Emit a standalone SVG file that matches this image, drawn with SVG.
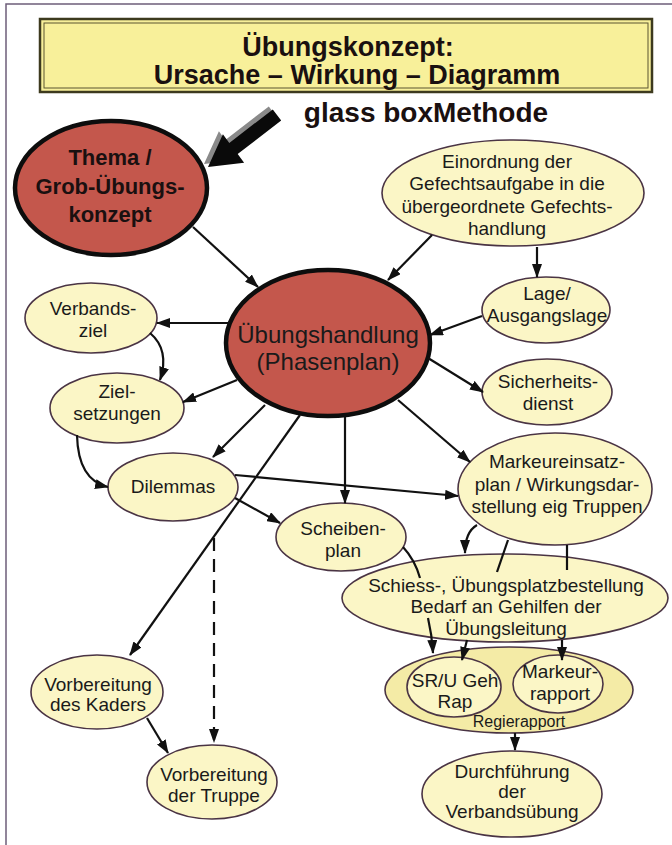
<svg xmlns="http://www.w3.org/2000/svg" width="672" height="845" viewBox="0 0 672 845">
<defs>
<style>
.n{fill:#FBF6C6;stroke:#4a3444;stroke-width:1.6}
.r{fill:#C4574C;stroke:#0d0d0d;stroke-width:4.5}
.t{font-family:"Liberation Sans",Arial,sans-serif;font-size:19px;fill:#1a1a1a;text-anchor:middle}
.big{font-size:24px}
.sm{font-size:16px}
.tb{font-family:"Liberation Sans",Arial,sans-serif;font-weight:bold;fill:#1a1010;text-anchor:middle}
.c{fill:none;stroke:#111;stroke-width:2.2}
.a{marker-end:url(#ah)}
</style>
<marker id="ah" viewBox="0 0 14 10" refX="13" refY="5" markerWidth="14" markerHeight="10" markerUnits="userSpaceOnUse" orient="auto">
<path d="M0,0 L14,5 L0,10 z" fill="#111"/>
</marker>
</defs>
<rect width="672" height="845" fill="#ffffff"/>
<path d="M672,4 H6 V845" fill="none" stroke="#6e5e7a" stroke-width="1.5"/>

<g id="title">
<rect x="40" y="19" width="612" height="73" fill="#F8F09A" stroke="#3d3a1e" stroke-width="2.5"/>
<rect x="44" y="23" width="604" height="65" fill="none" stroke="#5a5530" stroke-width="1"/>
<text class="tb" x="348" y="56" font-size="27">Übungskonzept:</text>
<text class="tb" x="357" y="84" font-size="27">Ursache – Wirkung – Diagramm</text>
</g>

<g id="glassbox">
<polygon points="268.8,106.4 277.2,117.6 233.7,151.1 240.1,159.7 204,164 218.9,131.3 225.3,139.9" fill="#8a8a8a"/>
<polygon points="272.8,109.4 281.2,120.6 237.7,154.1 244.1,162.7 208,167 222.9,134.3 229.3,142.9" fill="#0a0a0a"/>
<text class="tb" x="426" y="122" font-size="28">glass boxMethode</text>
</g>

<g id="thema">
<ellipse class="r" cx="111" cy="188" rx="96" ry="67"/>
<text class="tb" font-size="22" x="110" y="165">Thema /</text>
<text class="tb" font-size="22" x="110" y="194">Grob-Übungs-</text>
<text class="tb" font-size="22" x="110" y="222">konzept</text>
</g>

<g id="uebungshandlung">
<ellipse class="r" cx="328" cy="343" rx="102" ry="73" stroke-width="5"/>
<text class="t big" x="328" y="343">Übungshandlung</text>
<text class="t big" x="328" y="370">(Phasenplan)</text>
</g>

<g id="einordnung">
<ellipse class="n" cx="513" cy="193" rx="131" ry="53"/>
<text class="t" x="507" y="168">Einordnung der</text>
<text class="t" x="507" y="190">Gefechtsaufgabe in die</text>
<text class="t" x="507" y="213">übergeordnete Gefechts-</text>
<text class="t" x="507" y="235">handlung</text>
</g>

<g id="lage">
<ellipse class="n" cx="546" cy="310" rx="64" ry="33"/>
<text class="t" x="547" y="300">Lage/</text>
<text class="t" x="547" y="322">Ausgangslage</text>
</g>

<g id="verbandsziel">
<ellipse class="n" cx="91" cy="318" rx="66" ry="35"/>
<text class="t" x="93" y="315">Verbands-</text>
<text class="t" x="93" y="337">ziel</text>
</g>

<g id="zielsetzungen">
<ellipse class="n" cx="117" cy="408" rx="67" ry="35"/>
<text class="t" x="117" y="398">Ziel-</text>
<text class="t" x="117" y="420">setzungen</text>
</g>

<g id="dilemmas">
<ellipse class="n" cx="173" cy="487" rx="65" ry="34"/>
<text class="t" x="173" y="493">Dilemmas</text>
</g>

<g id="sicherheitsdienst">
<ellipse class="n" cx="547" cy="392" rx="65" ry="33"/>
<text class="t" x="548" y="388">Sicherheits-</text>
<text class="t" x="548" y="410">dienst</text>
</g>

<g id="markeureinsatzplan">
<ellipse class="n" cx="555" cy="489" rx="97" ry="56"/>
<text class="t" x="557" y="468">Markeureinsatz-</text>
<text class="t" x="557" y="491">plan / Wirkungsdar-</text>
<text class="t" x="557" y="513">stellung eig Truppen</text>
</g>

<g id="scheibenplan">
<ellipse class="n" cx="341" cy="537" rx="65" ry="34"/>
<text class="t" x="343" y="535">Scheiben-</text>
<text class="t" x="343" y="557">plan</text>
</g>

<g id="schiess">
<ellipse class="n" cx="505" cy="598" rx="163" ry="44"/>
<text class="t" x="506" y="592">Schiess-, Übungsplatzbestellung</text>
<text class="t" x="506" y="613">Bedarf an Gehilfen der</text>
<text class="t" x="506" y="635">Übungsleitung</text>
</g>

<g id="regierapport">
<ellipse cx="509" cy="690" rx="124" ry="43" fill="#F4EBA6" stroke="#4a3444" stroke-width="1.6"/>
<text class="t sm" x="519" y="727">Regierapport</text>
</g>

<g id="srugehrap">
<ellipse class="n" cx="454" cy="687" rx="47" ry="30"/>
<text class="t" x="455" y="687">SR/U Geh</text>
<text class="t" x="455" y="708">Rap</text>
</g>

<g id="markeurrapport">
<ellipse class="n" cx="558" cy="684" rx="45" ry="29"/>
<text class="t" x="560" y="678">Markeur-</text>
<text class="t" x="560" y="700">rapport</text>
</g>

<g id="durchfuehrung">
<ellipse class="n" cx="512" cy="794" rx="90" ry="43"/>
<text class="t" x="512" y="778">Durchführung</text>
<text class="t" x="512" y="798">der</text>
<text class="t" x="512" y="818">Verbandsübung</text>
</g>

<g id="kaders">
<ellipse class="n" cx="97" cy="692" rx="66" ry="37"/>
<text class="t" x="98" y="691">Vorbereitung</text>
<text class="t" x="98" y="711">des Kaders</text>
</g>

<g id="truppe">
<ellipse class="n" cx="212" cy="782" rx="65" ry="37"/>
<text class="t" x="214" y="781">Vorbereitung</text>
<text class="t" x="214" y="802">der Truppe</text>
</g>

<g id="connectors">
<path class="c a" d="M193,227 L258,287"/>
<path class="c a" d="M432,235 L388,280"/>
<path class="c a" d="M537,247 L537,277"/>
<path class="c a" d="M482,316 L430,335"/>
<path class="c a" d="M230,323 L157,323"/>
<path class="c a" d="M150,333 Q170,350 160,380"/>
<path class="c a" d="M237,380 L183,402"/>
<path class="c a" d="M77,435 Q78,480 108,487"/>
<path class="c a" d="M265,405 L213,457"/>
<path class="c a" d="M235,475 L458,496"/>
<path class="c a" d="M235,498 L280,523"/>
<path class="c a" d="M300,415 L130,655"/>
<path class="c a" d="M214,538 L214,742" stroke-dasharray="13,8"/>
<path class="c a" d="M147,718 L168,753"/>
<path class="c a" d="M345,417 L345,503"/>
<path class="c a" d="M428,358 L483,392"/>
<path class="c a" d="M398,400 L470,462"/>
<path class="c a" d="M477,525 Q465,532 465,553"/>
<path class="c" d="M508,540 L497,572"/>
<path class="c" d="M567,545 L567,570"/>
<path class="c" d="M403,547 Q415,560 420,578"/>
<path class="c a" d="M428,618 Q432,635 433,653"/>
<path class="c a" d="M467,640 L462,660"/>
<path class="c a" d="M562,640 L562,660"/>
<path class="c a" d="M515,733 L515,750"/>
</g>
</svg>
